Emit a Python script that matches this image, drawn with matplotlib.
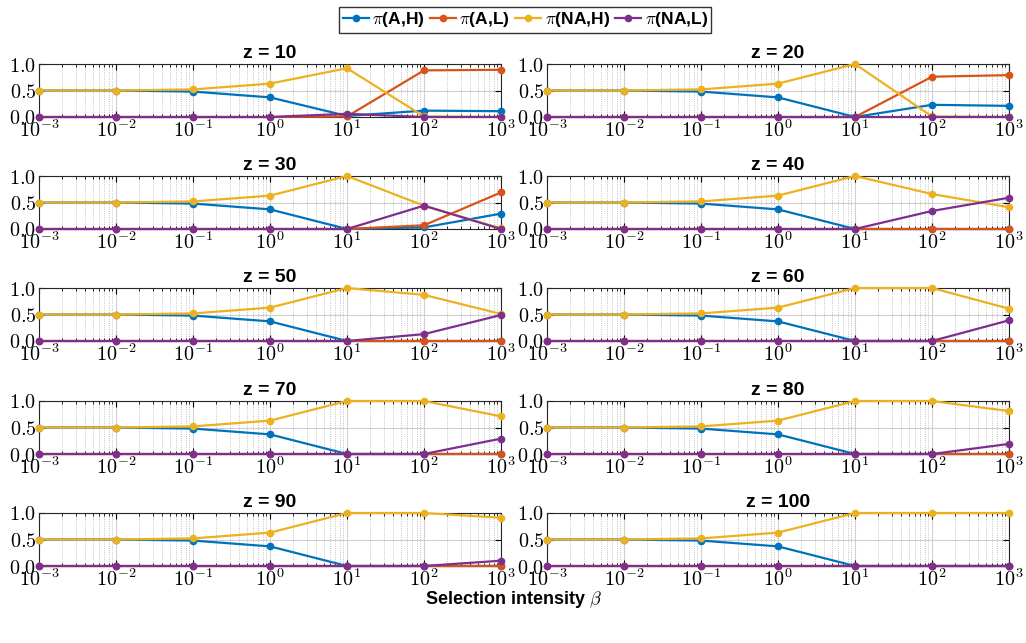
import numpy as np
import matplotlib
matplotlib.use("Agg")
import matplotlib.pyplot as plt
from matplotlib.ticker import LogLocator, FixedLocator, NullFormatter

plt.rcParams['font.family'] = ['Liberation Sans', 'DejaVu Sans']
plt.rcParams['mathtext.fontset'] = 'cm'

beta = [1e-3, 1e-2, 1e-1, 1e0, 1e1, 1e2, 1e3]
z_values = [10, 20, 30, 40, 50, 60, 70, 80, 90, 100]
series_labels = [r'$\pi$(A,H)', r'$\pi$(A,L)', r'$\pi$(NA,H)', r'$\pi$(NA,L)']
colors = ['#0072BD', '#D95319', '#EDB120', '#7E2F8E']

pi_AH = {
    10: [0.5, 0.5, 0.48, 0.37, 0.02, 0.12, 0.11],
    20: [0.5, 0.5, 0.48, 0.37, 0.0, 0.23, 0.21],
    30: [0.5, 0.5, 0.48, 0.37, 0.0, 0.03, 0.29],
    40: [0.5, 0.5, 0.48, 0.37, 0.0, 0.0, 0.0],
    50: [0.5, 0.5, 0.48, 0.37, 0.0, 0.0, 0.0],
    60: [0.5, 0.5, 0.48, 0.37, 0.0, 0.0, 0.0],
    70: [0.5, 0.5, 0.48, 0.37, 0.0, 0.0, 0.0],
    80: [0.5, 0.5, 0.48, 0.37, 0.0, 0.0, 0.0],
    90: [0.5, 0.5, 0.48, 0.37, 0.0, 0.0, 0.0],
    100: [0.5, 0.5, 0.48, 0.37, 0.0, 0.0, 0.0],
}
pi_AL = {
    10: [0.0, 0.0, 0.0, 0.0, 0.01, 0.88, 0.89],
    20: [0.0, 0.0, 0.0, 0.0, 0.0, 0.76, 0.79],
    30: [0.0, 0.0, 0.0, 0.0, 0.0, 0.07, 0.69],
    40: [0.0, 0.0, 0.0, 0.0, 0.0, 0.0, 0.0],
    50: [0.0, 0.0, 0.0, 0.0, 0.0, 0.0, 0.0],
    60: [0.0, 0.0, 0.0, 0.0, 0.0, 0.0, 0.0],
    70: [0.0, 0.0, 0.0, 0.0, 0.0, 0.0, 0.0],
    80: [0.0, 0.0, 0.0, 0.0, 0.0, 0.0, 0.0],
    90: [0.0, 0.0, 0.0, 0.0, 0.0, 0.0, 0.0],
    100: [0.0, 0.0, 0.0, 0.0, 0.0, 0.0, 0.0],
}
pi_NAH = {
    10: [0.5, 0.5, 0.52, 0.63, 0.92, 0.01, 0.0],
    20: [0.5, 0.5, 0.52, 0.63, 1.0, 0.01, 0.0],
    30: [0.5, 0.5, 0.52, 0.63, 1.0, 0.44, 0.01],
    40: [0.5, 0.5, 0.52, 0.63, 1.0, 0.66, 0.41],
    50: [0.5, 0.5, 0.52, 0.63, 1.0, 0.87, 0.51],
    60: [0.5, 0.5, 0.52, 0.63, 1.0, 1.0, 0.61],
    70: [0.5, 0.5, 0.52, 0.63, 1.0, 1.0, 0.71],
    80: [0.5, 0.5, 0.52, 0.63, 1.0, 1.0, 0.81],
    90: [0.5, 0.5, 0.52, 0.63, 1.0, 1.0, 0.91],
    100: [0.5, 0.5, 0.52, 0.63, 1.0, 1.0, 1.0],
}
pi_NAL = {
    10: [0.0, 0.0, 0.0, 0.0, 0.06, 0.0, 0.0],
    20: [0.0, 0.0, 0.0, 0.0, 0.0, 0.0, 0.0],
    30: [0.0, 0.0, 0.0, 0.0, 0.0, 0.44, 0.0],
    40: [0.0, 0.0, 0.0, 0.0, 0.0, 0.34, 0.59],
    50: [0.0, 0.0, 0.0, 0.0, 0.0, 0.13, 0.49],
    60: [0.0, 0.0, 0.0, 0.0, 0.0, 0.0, 0.39],
    70: [0.0, 0.0, 0.0, 0.0, 0.0, 0.0, 0.29],
    80: [0.0, 0.0, 0.0, 0.0, 0.0, 0.0, 0.19],
    90: [0.0, 0.0, 0.0, 0.0, 0.0, 0.0, 0.10],
    100: [0.0, 0.0, 0.0, 0.0, 0.0, 0.0, 0.0],
}
series = [pi_AH, pi_AL, pi_NAH, pi_NAL]

W, H = 1026, 643
fig = plt.figure(figsize=(W / 100, H / 100), dpi=100)

col_left = [39, 547]
ax_w = 462
row_top = [64, 176, 288, 401, 513]
ax_h = 53

handles = None
for i, z in enumerate(z_values):
    r, c = divmod(i, 2)
    x0 = col_left[c] / W
    y0 = 1 - (row_top[r] + ax_h) / H
    ax = fig.add_axes([x0, y0, ax_w / W, ax_h / H])
    hs = []
    for s, col, lab in zip(series, colors, series_labels):
        h, = ax.plot(beta, s[z], '-o', color=col, lw=1.6, ms=4.5, label=lab,
                     clip_on=False, zorder=3)
        hs.append(h)
    handles = hs
    ax.set_xscale('log')
    ax.set_xlim(1e-3, 1e3)
    ax.set_ylim(0, 1)
    ax.set_yticks([0, 0.5, 1.0])
    ax.set_yticklabels([r'$\mathbf{0.0}$', r'$\mathbf{0.5}$', r'$\mathbf{1.0}$'])
    ax.xaxis.set_major_locator(FixedLocator(beta))
    ax.set_xticklabels([r'$\mathbf{10^{%d}}$' % int(np.log10(b)) for b in beta])
    ax.xaxis.set_minor_locator(LogLocator(base=10, subs=np.arange(2, 10), numticks=100))
    ax.xaxis.set_minor_formatter(NullFormatter())
    ax.grid(True, which='major', color='#d0d0d0', lw=0.8, ls='-')
    ax.grid(True, which='minor', axis='x', color='#b0b0b0', lw=0.6, ls=':')
    ax.tick_params(which='both', direction='in', top=True, right=True,
                   labelsize=14.5, pad=2)
    ax.tick_params(which='major', length=4)
    ax.tick_params(which='minor', length=2)
    for sp in ax.spines.values():
        sp.set_color('#262626')
        sp.set_linewidth(0.8)
    ax.set_title(f'z = {z}', fontsize=14, fontweight='bold', pad=4)
    ax.set_axisbelow(True)

fig.legend(handles, series_labels, loc='upper center', bbox_to_anchor=(0.512, 0.995),
           ncol=4, frameon=True, fancybox=False, edgecolor='black',
           prop={'weight': 'bold', 'size': 12.5}, handlelength=1.5,
           handletextpad=0.2, columnspacing=0.3, borderpad=0.2, borderaxespad=0.2)

fig.text(0.5, 1 - 599 / H, r'Selection intensity $\beta$', ha='center', va='center',
         fontsize=13, fontweight='bold')

fig.savefig('out.png', dpi=100)
